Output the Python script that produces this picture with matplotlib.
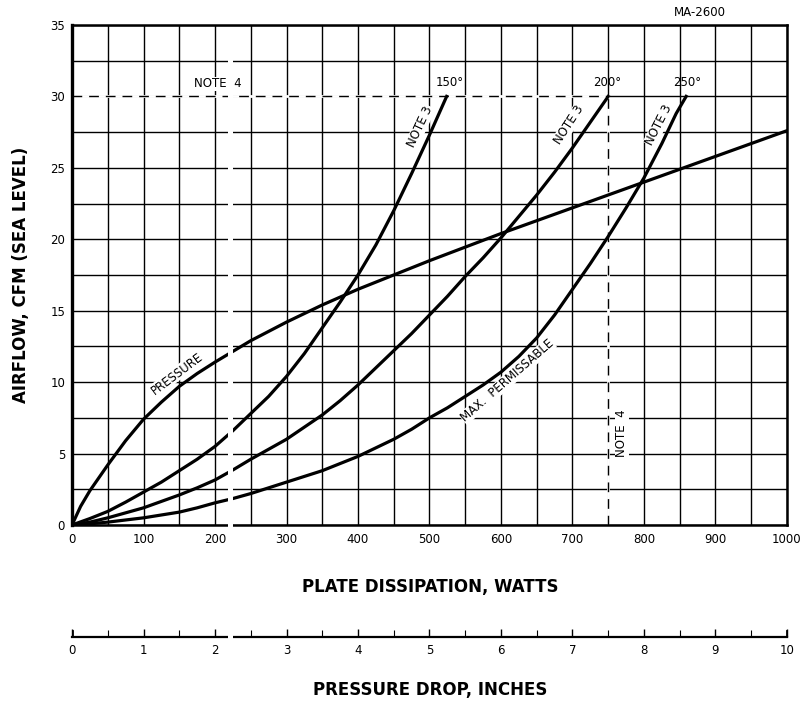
"""
Plate dissipation vs. airflow chart (MA-2600) with pressure-drop scale.
"""

import matplotlib
matplotlib.use("Agg")
import matplotlib.pyplot as plt
from matplotlib.patches import Rectangle

# ── Data ─────────────────────────────────────────────────────────────────────
pressure_w   = [0, 12, 25, 50, 75, 100, 125, 150, 175, 200, 250, 300, 350, 400, 450, 500,
                600, 700, 800, 900, 1000]
pressure_cfm = [0, 1.3, 2.4, 4.2, 5.9, 7.4, 8.6, 9.7, 10.6, 11.4, 12.9, 14.2, 15.4, 16.5,
                17.5, 18.5, 20.4, 22.2, 24.0, 25.8, 27.6]

c150_w   = [0, 25, 50, 75, 100, 125, 150, 175, 200, 225, 250, 275, 300, 325, 350, 375,
            400, 425, 450, 475, 500, 524]
c150_cfm = [0, 0.45, 0.95, 1.6, 2.3, 3.0, 3.8, 4.6, 5.5, 6.6, 7.8, 9.0, 10.4, 12.0, 13.8,
            15.6, 17.5, 19.6, 22.0, 24.6, 27.3, 30]

c200_w   = [0, 25, 50, 75, 100, 125, 150, 175, 200, 225, 250, 275, 300, 325, 350, 375,
            400, 425, 450, 475, 500, 525, 550, 575, 600, 625, 650, 675, 700, 725, 750]
c200_cfm = [0, 0.2, 0.5, 0.85, 1.2, 1.65, 2.1, 2.6, 3.15, 3.85, 4.6, 5.3, 6.0, 6.85, 7.7,
            8.7, 9.8, 11.0, 12.2, 13.4, 14.7, 16.0, 17.4, 18.7, 20.1, 21.6, 23.1, 24.7,
            26.4, 28.2, 30]

c250_w   = [0, 25, 50, 75, 100, 125, 150, 175, 200, 225, 250, 275, 300, 325, 350, 375,
            400, 425, 450, 475, 500, 525, 550, 575, 600, 625, 650, 675, 700, 725, 750,
            775, 800, 825, 845, 859]
c250_cfm = [0, 0.08, 0.2, 0.35, 0.5, 0.7, 0.9, 1.2, 1.55, 1.85, 2.2, 2.6, 3.0, 3.4, 3.8,
            4.3, 4.8, 5.4, 6.0, 6.7, 7.5, 8.2, 9.0, 9.8, 10.7, 11.8, 13.1, 14.7, 16.5,
            18.3, 20.2, 22.2, 24.3, 26.7, 28.8, 30]

note4_cfm   = 30      # horizontal limit line
note4_watts = 750     # vertical limit line

x_ticks = list(range(0, 1001, 100))
y_ticks = list(range(0, 36, 5))
p_ticks = list(range(0, 11))

splice = (218, 225)   # white seam in the scanned original (watts)

label_font = ["Liberation Sans Narrow", "DejaVu Sans"]

# ── Figure ───────────────────────────────────────────────────────────────────
fig = plt.figure(figsize=(8.01, 7.13), dpi=100)
fig.patch.set_facecolor("white")
ax = fig.add_axes([0.0899, 0.2637, 0.8926, 0.7013])

ax.set_xlim(0, 1000)
ax.set_ylim(0, 35)
ax.set_xticks(x_ticks)
ax.set_yticks(y_ticks)
ax.set_xticks(range(50, 1000, 100), minor=True)
ax.set_yticks([v + 2.5 for v in y_ticks[:-1]], minor=True)
ax.grid(which="both", color="black", linewidth=1.0)
ax.set_axisbelow(True)
ax.tick_params(which="both", length=0, labelsize=8.5)
ax.tick_params(axis="x", pad=6)
ax.tick_params(axis="y", pad=5)
for s in ax.spines.values():
    s.set_linewidth(1.8)
ax.spines["left"].set_linewidth(2.4)

# curves
kw = dict(color="black", linewidth=2.3, solid_joinstyle="round", zorder=3)
ax.plot(pressure_w, pressure_cfm, **kw)
ax.plot(c150_w, c150_cfm, **kw)
ax.plot(c200_w, c200_cfm, **kw)
ax.plot(c250_w, c250_cfm, **kw)

# NOTE 4 limit lines (dashed, replacing the grid line underneath)
dash = dict(color="black", linewidth=1.0, linestyle=(0, (7, 5)), zorder=2.6)
ax.plot([0, note4_watts], [note4_cfm, note4_cfm], color="white", linewidth=2.0, zorder=2.5)
ax.plot([note4_watts, note4_watts], [0, note4_cfm], color="white", linewidth=2.0, zorder=2.5)
ax.plot([0, note4_watts], [note4_cfm, note4_cfm], **dash)
ax.plot([note4_watts, note4_watts], [0, note4_cfm], **dash)

# white seam from the original scan
ax.add_patch(Rectangle((splice[0], -0.6), splice[1] - splice[0], 35.4,
                       facecolor="white", edgecolor="none", clip_on=False, zorder=6))

# ── Annotations ──────────────────────────────────────────────────────────────
tk = dict(fontsize=8.5, ha="center", va="center", zorder=8)
wb = dict(facecolor="white", edgecolor="none", pad=0.3)
ax.text(204, 30.9, "NOTE  4", bbox=wb, **tk)
ax.text(529, 31.0, "150°", **tk)
ax.text(748, 31.0, "200°", **tk)
ax.text(860, 31.0, "250°", **tk)
ax.text(487, 27.9, "NOTE 3", rotation=65, bbox=wb, zorder=2.8, fontsize=8.5,
        ha="center", va="center")
ax.text(695, 28.0, "NOTE 3", rotation=57, bbox=wb, zorder=2.8, fontsize=8.5,
        ha="center", va="center")
ax.text(821, 28.0, "NOTE 3", rotation=63, bbox=wb, zorder=2.8, fontsize=8.5,
        ha="center", va="center")
ax.text(147, 10.6, "PRESSURE", rotation=37, bbox=wb, zorder=2.8, fontsize=8.5,
        ha="center", va="center")
ax.text(609, 10.1, "MAX.  PERMISSABLE", rotation=41, bbox=wb, zorder=2.8, fontsize=8.5,
        ha="center", va="center")
ax.text(769, 6.4, "NOTE  4", rotation=90, bbox=wb, **tk)

fig.text(0.874, 0.982, "MA-2600", fontsize=8.5, ha="center", va="center")

fig.text(0.026, 0.614, "AIRFLOW, CFM (SEA LEVEL)", rotation=90, fontsize=12,
         fontweight="bold", ha="center", va="center")
fig.text(0.537, 0.177, "PLATE DISSIPATION, WATTS", fontsize=12,
         fontweight="bold", ha="center", va="center", family=label_font)
fig.text(0.537, 0.032, "PRESSURE DROP, INCHES", fontsize=12,
         fontweight="bold", ha="center", va="center", family=label_font)

# ── Pressure drop scale ──────────────────────────────────────────────────────
axp = fig.add_axes([0.0899, 0.1066, 0.8926, 0.03])
axp.set_xlim(0, 10)
axp.set_ylim(0, 1)
axp.patch.set_alpha(0)
for side in ("top", "left", "right"):
    axp.spines[side].set_visible(False)
axp.spines["bottom"].set_linewidth(1.6)
axp.set_yticks([])
axp.set_xticks(p_ticks)
axp.set_xticks([p + 0.5 for p in p_ticks[:-1]], minor=True)
axp.tick_params(axis="x", which="major", direction="in", length=6, width=1.0,
                labelsize=8.5, pad=5)
axp.tick_params(axis="x", which="minor", direction="in", length=5, width=0.8)
axp.axvline(0, ymax=0.3, color="black", linewidth=2.0)
axp.axvline(10, ymax=0.3, color="black", linewidth=2.0)
axp.add_patch(Rectangle((splice[0] / 100, -0.3), (splice[1] - splice[0]) / 100, 1.0,
                        facecolor="white", edgecolor="none", clip_on=False, zorder=6))

fig.savefig("out.png", dpi=100)
plt.close(fig)
